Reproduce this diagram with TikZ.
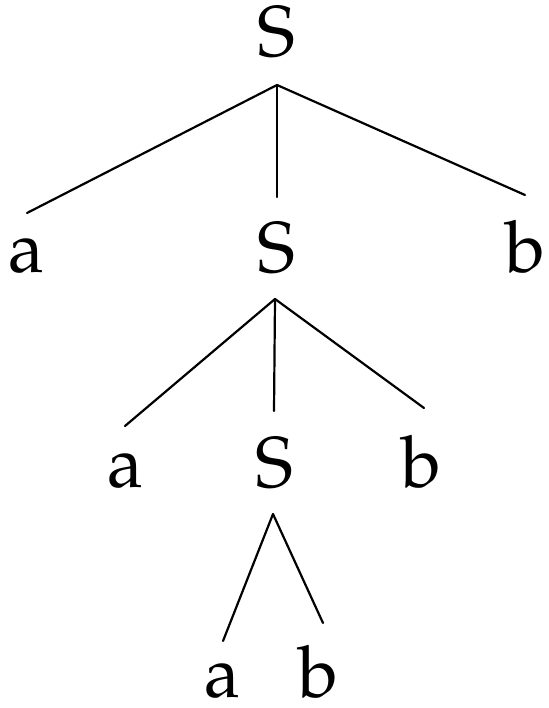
\documentclass[tikz,border=0pt]{standalone}
\usepackage[T1]{fontenc}
\usepackage{mathpazo}
\tikzset{
  sym/.style={anchor=base, inner sep=0pt, font=\fontsize{72}{80}\selectfont},
  edge/.style={line width=2.2pt, line cap=round}
}
\begin{document}
\begin{tikzpicture}[x=1pt, y=-1pt]
\useasboundingbox (0,0) rectangle (548,708);
% symbols of the derivation tree
\node[sym] (s1) at (276,57) {S};
\node[sym] (a1) at (27,272) {a};
\node[sym] (s2) at (276,272) {S};
\node[sym] (b1) at (525,272) {b};
\node[sym] (a2) at (125,487) {a};
\node[sym] (s3) at (274,487) {S};
\node[sym] (b2) at (421,487) {b};
\node[sym] (a3) at (222,697) {a};
\node[sym] (b3) at (318,697) {b};
% branch points and branch ends
\coordinate (p1) at (277,85);
\coordinate (e1a) at (27,213);
\coordinate (e1s) at (277,197);
\coordinate (e1b) at (525,195);
\coordinate (p2) at (275,299);
\coordinate (e2a) at (125,426);
\coordinate (e2s) at (274,411);
\coordinate (e2b) at (424,408);
\coordinate (p3) at (273,514);
\coordinate (e3a) at (223,641);
\coordinate (e3b) at (323,623);
% branches
\draw[edge] (p1) -- (e1a);
\draw[edge] (p1) -- (e1s);
\draw[edge] (p1) -- (e1b);
\draw[edge] (p2) -- (e2a);
\draw[edge] (p2) -- (e2s);
\draw[edge] (p2) -- (e2b);
\draw[edge] (p3) -- (e3a);
\draw[edge] (p3) -- (e3b);
\end{tikzpicture}
\end{document}
